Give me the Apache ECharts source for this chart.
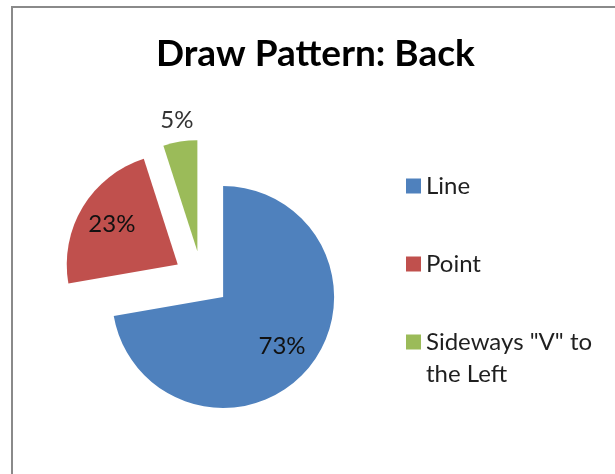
<!DOCTYPE html>
<html>
<head>
<meta charset="utf-8">
<script src="https://cdn.jsdelivr.net/npm/echarts@6/dist/echarts.min.js"></script>
<style>
  html, body { margin: 0; padding: 0; background: #ffffff; }
  #chart { width: 615px; height: 474px; }
</style>
</head>
<body>
<div id="chart"></div>
<script>
// Draw pattern observed at the back
const categories = ['Line', 'Point', 'Sideways "V" to\nthe Left'];
const shares = [73, 23, 5];
const sliceColors = ['#4F81BD', '#C0504D', '#9BBB59'];

const FONT = 'Lato';
const CENTER = [201.7, 279];
const RADIUS = 111;
const EXPLODE = 28;
const CLEAR = 'rgba(0,0,0,0)';

const chart = echarts.init(document.getElementById('chart'), null, { renderer: 'canvas' });

function sliceData(colorFor, labelFor) {
  return categories.map((name, i) => ({
    name: name,
    value: shares[i],
    selected: true,
    itemStyle: { color: colorFor(i) },
    label: { show: labelFor(i) }
  }));
}

// every legend entry is laid out as three text rows with the name
// starting on the middle row, so each swatch sits beside a name's first line
function legendText(name) {
  return name.indexOf('\n') >= 0 ? '\n' + name : '\n' + name + '\n';
}

const common = {
  type: 'pie',
  center: CENTER,
  startAngle: 90,
  clockwise: true,
  selectedMode: 'multiple',
  selectedOffset: EXPLODE,
  animation: false,
  emphasis: { disabled: true },
  labelLine: { show: false }
};

chart.setOption({
  backgroundColor: '#ffffff',
  title: {
    text: 'Draw Pattern: Back',
    left: 156,
    top: 36,
    padding: 0,
    textStyle: { fontFamily: FONT, fontWeight: 'bold', fontSize: 37, color: '#000000' }
  },
  legend: {
    orient: 'vertical',
    left: 406,
    top: 138,
    padding: 0,
    itemGap: -18,
    itemWidth: 15,
    itemHeight: 15,
    icon: 'rect',
    selectedMode: false,
    formatter: legendText,
    data: categories,
    textStyle: { fontFamily: FONT, fontSize: 24, lineHeight: 32, color: '#1f1f1f' }
  },
  graphic: [{
    type: 'rect',
    silent: true,
    shape: { x: 12, y: 7, width: 700, height: 600 },
    style: { fill: null, stroke: '#8a8a8a', lineWidth: 2 }
  }],
  series: [
    Object.assign({}, common, {
      name: 'slices',
      radius: [0, RADIUS],
      label: { show: false },
      itemStyle: { borderWidth: 0 },
      data: sliceData(i => sliceColors[i], () => false)
    }),
    // labels for the larger slices, two thirds of the way out
    Object.assign({}, common, {
      name: 'inner labels',
      radius: [RADIUS / 3, RADIUS],
      silent: true,
      label: {
        position: 'inside',
        formatter: '{c}%',
        fontFamily: FONT, fontSize: 24, color: '#111111'
      },
      data: sliceData(() => CLEAR, i => i !== 2)
    }),
    // label for the thin slice, just beyond its rim
    Object.assign({}, common, {
      name: 'outer labels',
      radius: [RADIUS, RADIUS + 37],
      silent: true,
      label: {
        position: 'inside',
        formatter: '{c}%',
        fontFamily: FONT, fontSize: 24, color: '#333333'
      },
      data: sliceData(() => CLEAR, i => i === 2)
    })
  ]
});
</script>
</body>
</html>
